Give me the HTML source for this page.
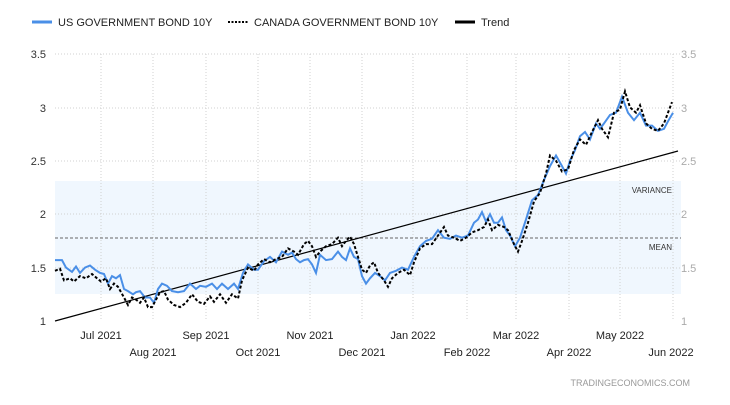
<!DOCTYPE html>
<html><head><meta charset="utf-8"><style>
body{margin:0;background:#fff;width:730px;height:400px;overflow:hidden;font-family:"Liberation Sans",sans-serif}
svg text{font-family:"Liberation Sans",sans-serif}
</style></head><body>
<svg id="s" width="730" height="400" xmlns="http://www.w3.org/2000/svg">
<rect x="55" y="181" width="626" height="113" fill="#f0f7fe"/>
<g stroke="#d0d0d0" stroke-dasharray="1,2" stroke-width="1">
<line x1="55" y1="54" x2="681" y2="54"/><line x1="55" y1="108" x2="681" y2="108"/>
<line x1="55" y1="161" x2="681" y2="161"/><line x1="55" y1="214" x2="681" y2="214"/>
<line x1="55" y1="268" x2="681" y2="268"/>
<line x1="101" y1="54" x2="101" y2="321"/><line x1="153" y1="54" x2="153" y2="321"/>
<line x1="206" y1="54" x2="206" y2="321"/><line x1="258" y1="54" x2="258" y2="321"/>
<line x1="310" y1="54" x2="310" y2="321"/><line x1="362" y1="54" x2="362" y2="321"/>
<line x1="413" y1="54" x2="413" y2="321"/><line x1="467" y1="54" x2="467" y2="321"/>
<line x1="516" y1="54" x2="516" y2="321"/><line x1="569" y1="54" x2="569" y2="321"/>
<line x1="620" y1="54" x2="620" y2="321"/><line x1="673" y1="54" x2="673" y2="321"/>
</g>
<line x1="55" y1="238" x2="681" y2="238" stroke="#666" stroke-dasharray="3,2"/>
<g font-size="11" fill="#333" text-anchor="end">
<text x="46" y="58">3.5</text><text x="46" y="112">3</text><text x="46" y="165">2.5</text>
<text x="46" y="218">2</text><text x="46" y="272">1.5</text><text x="46" y="325">1</text></g>
<g font-size="11" fill="#aaa">
<text x="681" y="58">3.5</text><text x="681" y="112">3</text><text x="681" y="165">2.5</text>
<text x="681" y="218">2</text><text x="681" y="272">1.5</text><text x="681" y="325">1</text></g>
<g font-size="8" fill="#333" text-anchor="end"><text x="672" y="193">VARIANCE</text><text x="672" y="250">MEAN</text></g>
<g font-size="11" fill="#222" text-anchor="middle">
<text x="101" y="339">Jul 2021</text><text x="206" y="339">Sep 2021</text><text x="310" y="339">Nov 2021</text>
<text x="413" y="339">Jan 2022</text><text x="516" y="339">Mar 2022</text><text x="620" y="339">May 2022</text>
<text x="153" y="356">Aug 2021</text><text x="258" y="356">Oct 2021</text><text x="362" y="356">Dec 2021</text>
<text x="467" y="356">Feb 2022</text><text x="569" y="356">Apr 2022</text><text x="671" y="356">Jun 2022</text></g>
<text x="690" y="386" font-size="9" fill="#999" text-anchor="end">TRADINGECONOMICS.COM</text>
<line x1="55" y1="321" x2="678" y2="151" stroke="#000" stroke-width="1.2"/>
<g font-size="11" fill="#222">
<line x1="32" y1="22" x2="52" y2="22" stroke="#4a8fe7" stroke-width="3"/>
<text x="58" y="26">US GOVERNMENT BOND 10Y</text>
<line x1="228" y1="22" x2="248" y2="22" stroke="#000" stroke-width="2" stroke-dasharray="2,1.5"/>
<text x="254" y="26">CANADA GOVERNMENT BOND 10Y</text>
<line x1="455" y1="22" x2="475" y2="22" stroke="#000" stroke-width="3"/>
<text x="481" y="26">Trend</text></g>
<polyline id="us" fill="none" stroke="#4a8fe7" stroke-width="2"/>
<polyline id="ca" fill="none" stroke="#000" stroke-width="2" stroke-dasharray="3,2"/>
</svg>
<script>
function y(v){return 321-(v-1)*106.8}
var us=[55,1.57,62,1.57,66,1.50,72,1.46,76,1.51,80,1.45,85,1.50,90,1.52,95,1.48,100,1.45,104,1.44,108,1.35,112,1.42,116,1.40,120,1.43,124,1.30,128,1.28,133,1.25,136,1.27,140,1.28,145,1.22,150,1.22,154,1.17,158,1.30,162,1.35,167,1.33,172,1.28,178,1.27,184,1.28,190,1.35,196,1.30,200,1.33,206,1.32,212,1.35,217,1.30,222,1.35,228,1.30,234,1.35,238,1.30,243,1.45,248,1.53,254,1.48,258,1.48,264,1.56,270,1.60,276,1.55,282,1.65,288,1.62,292,1.64,296,1.58,300,1.55,304,1.57,308,1.58,312,1.53,316,1.45,320,1.62,326,1.57,332,1.58,338,1.65,342,1.60,346,1.57,350,1.68,354,1.60,358,1.58,362,1.42,366,1.35,370,1.40,375,1.45,380,1.42,385,1.38,390,1.45,396,1.47,402,1.50,408,1.48,414,1.60,420,1.70,426,1.75,432,1.77,438,1.85,444,1.78,450,1.77,456,1.80,462,1.78,468,1.80,474,1.92,478,1.95,482,2.02,486,1.93,490,2.00,494,1.92,498,1.92,502,1.97,506,1.85,510,1.80,515,1.70,520,1.78,526,1.95,532,2.13,538,2.18,544,2.32,550,2.45,556,2.55,562,2.45,566,2.38,570,2.50,575,2.60,580,2.73,585,2.77,590,2.70,596,2.85,600,2.80,604,2.85,610,2.93,616,2.95,622,3.10,628,2.95,634,2.88,640,2.95,646,2.83,652,2.83,658,2.78,664,2.80,668,2.87,673,2.95];
var ca=[55,1.47,60,1.49,64,1.38,70,1.40,74,1.37,80,1.42,86,1.40,92,1.44,97,1.40,101,1.37,106,1.40,110,1.30,114,1.35,118,1.32,124,1.22,128,1.15,132,1.22,136,1.20,140,1.17,144,1.22,148,1.13,152,1.13,156,1.20,160,1.27,164,1.28,168,1.20,174,1.15,180,1.13,186,1.17,192,1.25,198,1.18,204,1.16,210,1.23,214,1.18,220,1.25,226,1.17,232,1.25,238,1.21,242,1.38,248,1.50,254,1.47,258,1.53,264,1.58,270,1.55,276,1.58,282,1.60,288,1.68,294,1.65,298,1.62,304,1.72,308,1.75,312,1.70,316,1.60,320,1.65,326,1.70,332,1.72,338,1.78,342,1.70,346,1.75,350,1.79,354,1.72,358,1.60,362,1.48,366,1.45,370,1.52,374,1.55,378,1.45,384,1.38,388,1.32,392,1.40,398,1.45,404,1.48,410,1.43,414,1.55,420,1.68,426,1.72,432,1.72,438,1.80,444,1.88,448,1.80,454,1.78,460,1.75,466,1.78,472,1.83,478,1.85,484,1.88,488,1.95,492,1.85,498,1.90,504,1.88,508,1.85,514,1.72,518,1.65,522,1.75,528,1.92,534,2.12,540,2.20,546,2.38,550,2.55,556,2.50,562,2.40,568,2.42,574,2.60,580,2.70,586,2.65,592,2.77,598,2.88,602,2.80,608,2.72,614,2.95,620,2.98,625,3.15,630,3.00,636,2.95,640,3.02,646,2.85,652,2.80,658,2.78,664,2.85,668,2.95,672,3.05];
function pts(a){var s=[];for(var i=0;i<a.length;i+=2)s.push(a[i]+","+y(a[i+1]).toFixed(1));return s.join(" ")}
document.getElementById("us").setAttribute("points",pts(us));
document.getElementById("ca").setAttribute("points",pts(ca));
</script>
</body></html>
